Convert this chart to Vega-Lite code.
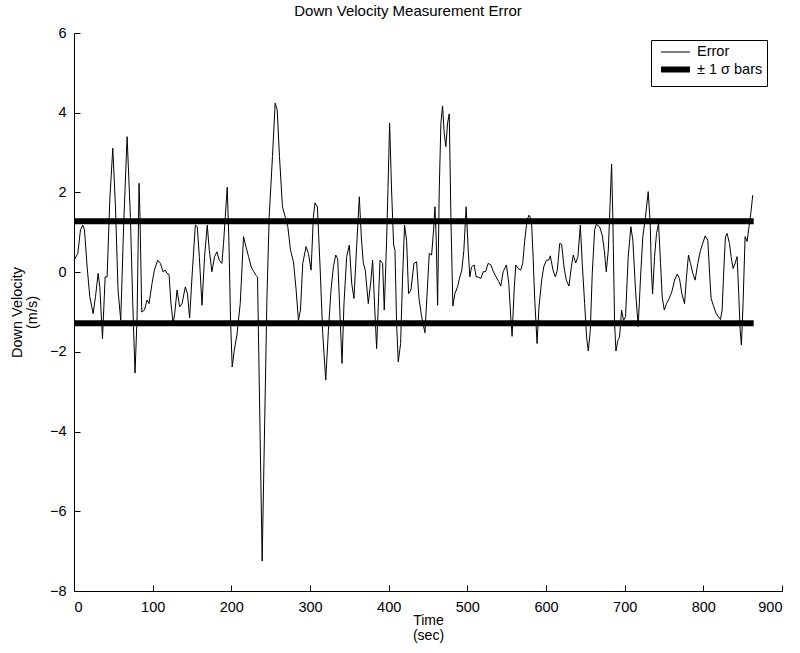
{
  "$schema": "https://vega.github.io/schema/vega-lite/v6.json",
  "width": 708,
  "height": 558,
  "autosize": {"type": "none"},
  "padding": {"left": 74, "top": 33, "right": 18, "bottom": 62},
  "background": "white",
  "title": {"text": "Down Velocity Measurement Error", "fontSize": 15, "fontWeight": "normal", "font": "Liberation Sans", "color": "black", "offset": 6, "dx": -20},
  "config": {
    "view": {"stroke": null},
    "font": "Liberation Sans",
    "axis": {"grid": false, "domainColor": "black", "tickColor": "black", "labelColor": "black", "titleColor": "black", "labelFontSize": 14.5, "titleFontSize": 14.5, "titleFontWeight": "normal", "tickSize": -6, "domainWidth": 1, "tickWidth": 1}
  },
  "datasets": {
    "err": [
      {"t":0,"v":0.3},{"t":4.9,"v":0.47},{"t":8.2,"v":1.06},{"t":11.2,"v":1.18},{"t":13.3,"v":1.06},{"t":16.7,"v":0.13},{"t":20.1,"v":-0.62},{"t":24.3,"v":-1.04},{"t":27.3,"v":-0.62},{"t":30.7,"v":-0.03},{"t":32.8,"v":-0.37},{"t":36.2,"v":-1.67},{"t":39.6,"v":-0.12},{"t":42.1,"v":-0.12},{"t":45.5,"v":1.81},{"t":49.3,"v":3.11},{"t":52.7,"v":1.64},{"t":56.0,"v":-0.45},{"t":59.4,"v":-1.21},{"t":63.2,"v":1.22},{"t":67.5,"v":3.4},{"t":71.7,"v":1.39},{"t":74.7,"v":-0.79},{"t":77.6,"v":-2.53},{"t":80.2,"v":-1.12},{"t":82.7,"v":2.23},{"t":83.9,"v":1.39},{"t":86.1,"v":-1.0},{"t":89.5,"v":-0.95},{"t":92.9,"v":-0.7},{"t":95.4,"v":-0.79},{"t":99.2,"v":-0.28},{"t":102.2,"v":0.05},{"t":106.4,"v":0.3},{"t":109.8,"v":0.22},{"t":113.2,"v":0.01},{"t":116.1,"v":0.05},{"t":118.2,"v":-0.03},{"t":120.8,"v":-0.06},{"t":123.3,"v":-0.79},{"t":126.0,"v":-1.29},{"t":128.0,"v":-1.04},{"t":131.0,"v":-0.45},{"t":134.3,"v":-0.87},{"t":137.3,"v":-0.79},{"t":141.5,"v":-0.37},{"t":144.3,"v":-0.55},{"t":147,"v":-1.15},{"t":150,"v":-0.12},{"t":154.2,"v":1.18},{"t":156.7,"v":1.14},{"t":159.3,"v":0.39},{"t":162.7,"v":-0.83},{"t":166,"v":0.39},{"t":169.4,"v":1.18},{"t":172,"v":0.55},{"t":175.3,"v":0.01},{"t":178.7,"v":0.39},{"t":181.7,"v":0.51},{"t":184.6,"v":0.3},{"t":188,"v":0.22},{"t":190.1,"v":0.72},{"t":192.3,"v":1.39},{"t":194.8,"v":2.13},{"t":196.9,"v":0.8},{"t":199,"v":-1.21},{"t":201.1,"v":-2.38},{"t":203.7,"v":-1.96},{"t":207.1,"v":-1.58},{"t":211.3,"v":-0.79},{"t":215.5,"v":0.89},{"t":218.5,"v":0.64},{"t":221.9,"v":0.39},{"t":225.3,"v":0.13},{"t":228.6,"v":0.01},{"t":231.2,"v":-0.08},{"t":233.3,"v":-0.12},{"t":239.2,"v":-7.25},{"t":245.2,"v":-0.7},{"t":248.1,"v":1.39},{"t":252.3,"v":2.9},{"t":255.7,"v":4.24},{"t":258.3,"v":4.07},{"t":261.2,"v":2.9},{"t":265,"v":1.64},{"t":268.4,"v":1.39},{"t":271.8,"v":1.14},{"t":275.2,"v":0.55},{"t":279,"v":0.26},{"t":282.4,"v":-0.45},{"t":285.3,"v":-1.21},{"t":287.9,"v":-0.95},{"t":290.8,"v":0.22},{"t":295,"v":0.64},{"t":298,"v":0.47},{"t":301.4,"v":0.05},{"t":304.3,"v":1.39},{"t":306.4,"v":1.74},{"t":309.4,"v":1.64},{"t":312.8,"v":0.13},{"t":316.2,"v":-1.54},{"t":320,"v":-2.71},{"t":323.4,"v":-1.46},{"t":326.7,"v":-0.45},{"t":329.7,"v":0.13},{"t":332.7,"v":0.43},{"t":335.2,"v":0.34},{"t":337.7,"v":-0.87},{"t":340.7,"v":-2.29},{"t":343.2,"v":-0.79},{"t":346.6,"v":0.39},{"t":350,"v":0.68},{"t":353,"v":-0.28},{"t":355.9,"v":-0.66},{"t":359.3,"v":0.64},{"t":362.7,"v":1.89},{"t":365.2,"v":0.89},{"t":367.8,"v":0.22},{"t":370.3,"v":0.05},{"t":374.1,"v":-0.79},{"t":377.1,"v":-0.28},{"t":379.6,"v":0.3},{"t":382.2,"v":-0.87},{"t":384.7,"v":-1.92},{"t":387.2,"v":-0.62},{"t":389,"v":0.3},{"t":392.3,"v":0.22},{"t":394.4,"v":-0.95},{"t":397.4,"v":0.8},{"t":399.1,"v":2.06},{"t":401.2,"v":3.74},{"t":403.7,"v":2.06},{"t":406.3,"v":0.68},{"t":408,"v":0.55},{"t":410.1,"v":-1.29},{"t":412.2,"v":-2.25},{"t":415.2,"v":-1.79},{"t":417.7,"v":-0.12},{"t":420.2,"v":1.18},{"t":422.8,"v":0.8},{"t":425.3,"v":-0.54},{"t":428.3,"v":-0.45},{"t":432.1,"v":0.22},{"t":435.5,"v":0.26},{"t":438.5,"v":-0.65},{"t":441.9,"v":-1.12},{"t":446.1,"v":-1.52},{"t":449.1,"v":-0.45},{"t":451.6,"v":0.47},{"t":454.6,"v":0.43},{"t":457.1,"v":1.06},{"t":458.8,"v":1.64},{"t":460.5,"v":0.8},{"t":462.2,"v":-0.83},{"t":464.3,"v":2.06},{"t":466.4,"v":3.74},{"t":468.5,"v":4.17},{"t":470.6,"v":3.48},{"t":472.7,"v":3.15},{"t":474.9,"v":3.74},{"t":477,"v":3.97},{"t":479.1,"v":1.39},{"t":481.6,"v":-0.85},{"t":484.2,"v":-0.54},{"t":487.5,"v":-0.37},{"t":490.5,"v":-0.12},{"t":493,"v":0.05},{"t":495.6,"v":0.55},{"t":498.5,"v":1.64},{"t":501.1,"v":0.55},{"t":503.2,"v":-0.12},{"t":505.3,"v":0.13},{"t":508.7,"v":0.18},{"t":511.2,"v":-0.12},{"t":513.8,"v":-0.12},{"t":517.2,"v":-0.16},{"t":520.1,"v":0.01},{"t":523.1,"v":0.01},{"t":526.5,"v":0.22},{"t":529.9,"v":0.18},{"t":533.2,"v":0.01},{"t":536.6,"v":-0.12},{"t":540,"v":-0.24},{"t":542.5,"v":-0.35},{"t":545.5,"v":0.01},{"t":549.7,"v":0.18},{"t":552.7,"v":-0.28},{"t":555.2,"v":-1.12},{"t":556.9,"v":-1.61},{"t":559.5,"v":-0.45},{"t":561.6,"v":0.18},{"t":564.5,"v":0.09},{"t":567.9,"v":0.05},{"t":570.4,"v":0.22},{"t":573,"v":0.8},{"t":576,"v":1.31},{"t":578.5,"v":1.43},{"t":581.5,"v":1.31},{"t":583.6,"v":0.39},{"t":585.7,"v":-0.7},{"t":588.6,"v":-1.79},{"t":591.1,"v":-0.87},{"t":594.5,"v":-0.2},{"t":597.1,"v":0.13},{"t":600.5,"v":0.3},{"t":603.4,"v":0.3},{"t":605.5,"v":0.41},{"t":608.9,"v":0.05},{"t":611.9,"v":-0.12},{"t":614.4,"v":0.05},{"t":617.4,"v":0.72},{"t":619.9,"v":0.7},{"t":622.9,"v":0.13},{"t":625.8,"v":-0.2},{"t":629.2,"v":-0.35},{"t":632.2,"v":0.13},{"t":634.7,"v":0.43},{"t":637.7,"v":0.23},{"t":640.6,"v":0.39},{"t":643.6,"v":1.18},{"t":646.1,"v":0.22},{"t":649.1,"v":-0.79},{"t":651.6,"v":-1.63},{"t":653.8,"v":-1.98},{"t":656.3,"v":-1.46},{"t":658.8,"v":-0.03},{"t":661.8,"v":1.06},{"t":663.9,"v":1.2},{"t":668.1,"v":1.14},{"t":671.5,"v":0.93},{"t":674.1,"v":0.55},{"t":676.6,"v":0.01},{"t":679.2,"v":0.55},{"t":681.3,"v":1.64},{"t":683.4,"v":2.71},{"t":685.1,"v":1.22},{"t":687.2,"v":-1.29},{"t":688.9,"v":-1.98},{"t":691.4,"v":-1.71},{"t":693.5,"v":-1.63},{"t":696.1,"v":-0.95},{"t":698.6,"v":-1.21},{"t":701.1,"v":-1.12},{"t":704.5,"v":0.39},{"t":707.9,"v":1.14},{"t":710.4,"v":0.8},{"t":713.8,"v":-0.45},{"t":717.2,"v":-1.37},{"t":720.2,"v":-0.12},{"t":723.1,"v":0.89},{"t":726.5,"v":1.39},{"t":729.9,"v":2.02},{"t":732.5,"v":1.22},{"t":733.8,"v":0.13},{"t":735.5,"v":-0.55},{"t":738,"v":0.39},{"t":740.5,"v":0.97},{"t":743.1,"v":1.22},{"t":745.6,"v":0.22},{"t":747.7,"v":-0.62},{"t":750.3,"v":-0.95},{"t":753.2,"v":-0.79},{"t":756.6,"v":-0.66},{"t":760,"v":-0.49},{"t":763.4,"v":-0.2},{"t":766.8,"v":-0.05},{"t":769.7,"v":-0.16},{"t":772.7,"v":-0.54},{"t":776.1,"v":-0.79},{"t":778.6,"v":-0.12},{"t":781.1,"v":0.43},{"t":783.7,"v":0.22},{"t":786.6,"v":-0.03},{"t":789.6,"v":-0.2},{"t":793,"v":0.22},{"t":796.4,"v":0.55},{"t":799.3,"v":0.72},{"t":802.3,"v":0.91},{"t":805.7,"v":0.8},{"t":808.2,"v":-0.12},{"t":809.9,"v":-0.66},{"t":813.3,"v":-0.87},{"t":816.3,"v":-1.04},{"t":819.2,"v":-1.12},{"t":821.8,"v":-1.19},{"t":823.9,"v":-0.95},{"t":826,"v":0.05},{"t":828.1,"v":0.89},{"t":830.2,"v":0.97},{"t":833.2,"v":0.72},{"t":835.3,"v":0.39},{"t":837.8,"v":0.09},{"t":840.4,"v":0.22},{"t":842.9,"v":0.39},{"t":845,"v":-0.54},{"t":846.7,"v":-1.42},{"t":848.4,"v":-1.83},{"t":850.5,"v":-0.79},{"t":853.1,"v":0.89},{"t":855.6,"v":0.77},{"t":858.1,"v":1.14},{"t":860.3,"v":1.47},{"t":862.8,"v":1.93}
    ],
    "bars": [{"v": 1.28}, {"v": -1.28}]
  },
  "layer": [
    {
      "data": {"name": "err"},
      "mark": {"type": "line", "color": "black", "strokeJoin": "miter", "interpolate": "linear"},
      "encoding": {
        "x": {"field": "t", "type": "quantitative", "scale": {"domain": [0, 900], "nice": false, "zero": false},
              "axis": {"values": [0,100,200,300,400,500,600,700,800,900], "format": "d", "title": ["Time", "(sec)"], "labelPadding": 15, "titlePadding": 0, "titleFontSize": 14, "titleLineHeight": 14.5}},
        "y": {"field": "v", "type": "quantitative", "scale": {"domain": [-8, 6], "nice": false, "zero": false},
              "axis": {"values": [-8,-6,-4,-2,0,2,4,6], "format": "d", "title": ["Down Velocity", "(m/s)"], "labelPadding": 14, "titlePadding": 10, "titleLineHeight": 15}},
        "strokeWidth": {"datum": "Error", "type": "ordinal",
          "scale": {"domain": ["Error", "± 1 σ bars"], "range": [1, 6]},
          "legend": {"title": null, "orient": "none", "legendX": 577, "legendY": 7, "symbolType": "M-2,0L2,0", "symbolSize": 210, "symbolOffset": 10, "symbolStrokeColor": "black", "symbolFillColor": "transparent", "strokeColor": "black", "fillColor": "white", "padding": 4, "labelFontSize": 14.5, "labelColor": "black", "labelOffset": 11, "rowPadding": -4, "cornerRadius": 0}}
      }
    },
    {
      "data": {"name": "bars"},
      "mark": {"type": "rule", "color": "black"},
      "encoding": {
        "x": {"datum": 0, "type": "quantitative"},
        "x2": {"datum": 864},
        "y": {"field": "v", "type": "quantitative"},
        "strokeWidth": {"datum": "± 1 σ bars", "type": "ordinal"}
      }
    }
  ]
}
